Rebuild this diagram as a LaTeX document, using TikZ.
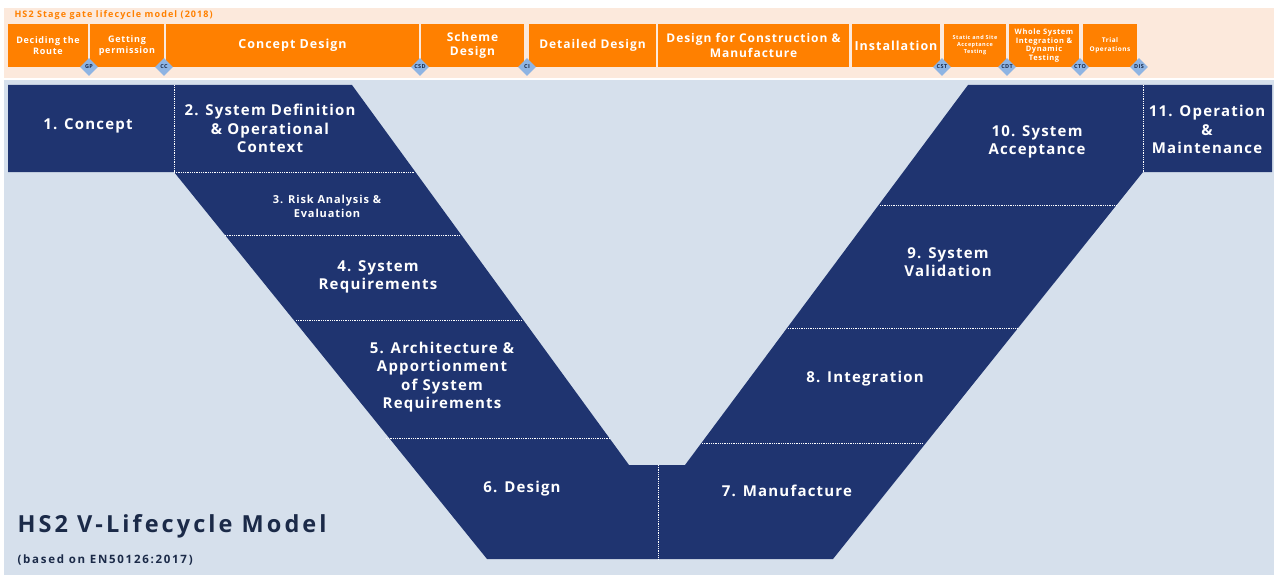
\documentclass[tikz,border=0pt]{standalone}
\usepackage{fontspec}
\setmainfont{Open Sans}[LetterSpace=8]
\usetikzlibrary{shapes.geometric}
\definecolor{gateorange}{HTML}{FF8000}
\definecolor{gatepeach}{HTML}{FCE9DC}
\definecolor{panelblue}{HTML}{D6E0EC}
\definecolor{vnavy}{HTML}{1F3470}
\definecolor{gateblue}{HTML}{8EB4E3}
\definecolor{titlenavy}{HTML}{1B2A48}
\newcommand{\fs}[2]{\fontsize{#1}{#2}\selectfont\bfseries}

\begin{document}
\begin{tikzpicture}[x=1pt, y=-1pt,
		stage/.style={fill=gateorange, text=white, align=center, inner sep=0pt, minimum height=43},
		gate/.style={diamond, fill=gateblue, inner sep=0pt, minimum size=18,
			label={[text=titlenavy, font=\fs{5.5}{6}, inner sep=0pt]center:#1}},
		phase/.style={text=white, align=center, font=\fs{15}{18.5}},
		split/.style={white, densely dotted, line width=0.8pt}]
		%%%%% START %%%%%
		\useasboundingbox (0, 0) rectangle (1274, 575);
		\fill[white] (0, 0) rectangle (1274, 575);
		\fill[gatepeach] (4, 8) rectangle (1274, 78);
		\fill[panelblue] (4, 80) rectangle (1274, 575);
		
		% stage gate bar
		\node[anchor=west, text=gateorange, font=\fs{9}{10}\addfontfeature{LetterSpace=12}] (gatetitle) at (11, 15.5) {HS2 Stage gate lifecycle model (2018)};
		\node[stage, minimum width=80, font=\fs{9}{10.5}] (route) at (48, 45.5) {Deciding the\\Route};
		\node[stage, minimum width=74, font=\fs{9}{10.5}] (permit) at (127, 45.5) {Getting\\permission};
		\node[stage, minimum width=253, font=\fs{12.5}{14}] (concdes) at (292.5, 45.5) {Concept Design};
		\node[stage, minimum width=103, font=\fs{12}{14.5}] (scheme) at (472.5, 45.5) {Scheme\\Design};
		\node[stage, minimum width=127, font=\fs{12}{14.5}] (detail) at (592.5, 45.5) {Detailed Design};
		\node[stage, minimum width=191, font=\fs{12}{14.5}] (dfcm) at (753.5, 45.5) {Design for Construction \&\\Manufacture};
		\node[stage, minimum width=88, font=\fs{12.5}{14}] (install) at (896, 45.5) {Installation};
		\node[stage, minimum width=62, font=\fs{5.5}{7}] (static) at (975, 45.5) {Static and Site\\Acceptance\\Testing};
		\node[stage, minimum width=70, font=\fs{7.5}{8.5}] (whole) at (1044, 45.5) {Whole System\\Integration \&\\Dynamic\\Testing};
		\node[stage, minimum width=54, font=\fs{6.5}{8.5}] (trial) at (1110, 45.5) {Trial\\Operations};
		
		\node[gate=GP] (gp) at (89, 67) {};
		\node[gate=CC] (cc) at (164, 67) {};
		\node[gate=CSD] (csd) at (420, 67) {};
		\node[gate=CI] (ci) at (527, 67) {};
		\node[gate=CST] (cst) at (942, 67) {};
		\node[gate=CDT] (cdt) at (1007, 67) {};
		\node[gate=CTO] (cto) at (1080, 67) {};
		\node[gate=DIS] (dis) at (1139, 67) {};
		
		% the V
		\fill[vnavy] (8, 85) -- (352, 85) -- (629, 465) -- (685, 465) -- (968, 85) -- (1272, 85)
			-- (1272, 172) -- (1143, 172) -- (833, 559) -- (487, 559) -- (174, 172) -- (8, 172) -- cycle;
		
		\draw[split] (174, 85) -- (174, 172);
		\draw[split] (174, 172) -- (415, 172);
		\draw[split] (225, 235) -- (460, 235);
		\draw[split] (296, 320) -- (522, 320);
		\draw[split] (386, 438) -- (610, 438);
		\draw[split] (658, 465) -- (658, 559);
		\draw[split] (702, 443) -- (923, 443);
		\draw[split] (788, 328) -- (1017, 328);
		\draw[split] (880, 205) -- (1117, 205);
		\draw[split] (1143, 85) -- (1143, 172);
		
		\node[phase] (concept) at (88, 126) {1. Concept};
		\node[phase] (sysdef) at (270, 128.5) {2. System Definition\\\& Operational\\Context};
		\node[phase, font=\fs{11}{14.5}] (risk) at (327, 206.5) {3. Risk Analysis \&\\Evaluation};
		\node[phase] (sysreq) at (378, 277) {4. System\\Requirements};
		\node[phase] (arch) at (442, 377) {5. Architecture \&\\Apportionment\\of System\\Requirements};
		\node[phase] (design) at (522, 489) {6. Design};
		\node[phase] (manuf) at (787, 491) {7. Manufacture};
		\node[phase] (integ) at (865, 379) {8. Integration};
		\node[phase] (valid) at (948, 262) {9. System\\Validation};
		\node[phase] (accept) at (1037, 142) {10. System\\Acceptance};
		\node[phase] (operate) at (1207, 129.5) {11. Operation\\\&\\Maintenance};
		
		\node[anchor=west, text=titlenavy, font=\fs{23.5}{26}\addfontfeature{LetterSpace=13}] (title) at (14, 526) {HS2 V-Lifecycle Model};
		\node[anchor=west, text=titlenavy, font=\fs{11.5}{13}\addfontfeature{LetterSpace=15}] (basis) at (14, 560) {(based on EN50126:2017)};
		%%%%% END %%%%%
	\end{tikzpicture}
\end{document}
